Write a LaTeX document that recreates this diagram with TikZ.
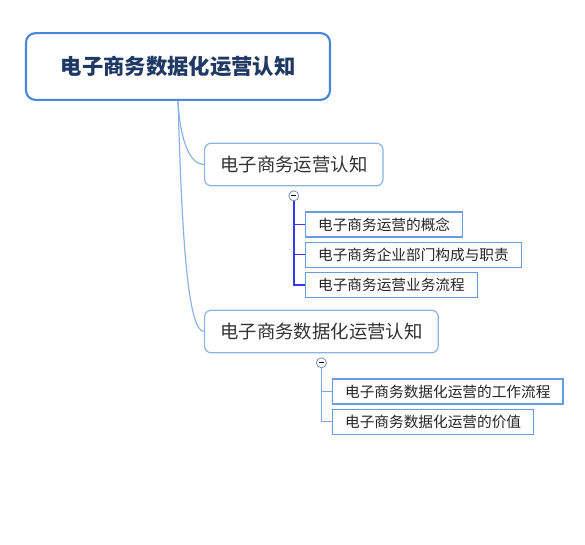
\documentclass[tikz,border=0pt]{standalone}
\usepackage{fontspec}
\setmainfont{Noto Sans CJK SC}
\usetikzlibrary{positioning}
\usepackage{xcolor}
\definecolor{rootline}{HTML}{4A86D8}
\definecolor{topicline}{HTML}{8DB3E2}
\definecolor{leafline}{HTML}{6A9BE0}
\definecolor{activebranch}{HTML}{3838EE}
\definecolor{branch}{HTML}{7DA4E4}
\definecolor{roottext}{HTML}{1F3864}

\begin{document}
\begin{tikzpicture}[x=0.75pt,y=-0.75pt,
    roottopic/.style={draw=rootline,line width=1.6pt,rounded corners=7pt,fill=white,
      font=\fontsize{16}{18}\selectfont\bfseries,text=roottext,
      minimum width=228pt,minimum height=50pt},
    maintopic/.style={draw=topicline,line width=0.9pt,rounded corners=5pt,fill=white,
      font=\fontsize{13.8}{16}\selectfont,text=black!80,inner xsep=11.7pt,
      minimum height=32pt,anchor=west},
    subtopic/.style={draw=leafline,line width=0.9pt,fill=white,
      font=\fontsize{11}{13}\selectfont,text=black!85,inner xsep=9.4pt,inner ysep=0pt,
      minimum height=18.75pt,anchor=west},
    fold/.style={circle,draw=topicline!80!black,fill=white,line width=0.6pt,
      minimum size=7.5pt,inner sep=0pt},
    rootlink/.style={draw=topicline,line width=0.9pt}]
  \useasboundingbox (0,0) rectangle (585,545);
  % central topic and its two main topics
  \node[roottopic] (root) at (178,66.5) {电子商务数据化运营认知};
  \node[maintopic] (ops) at (204,164.5) {电子商务运营认知};
  \node[maintopic] (dataops) at (204,331.5) {电子商务数据化运营认知};
  \draw[rootlink] (root.south) .. controls +(2,40) and +(-14,0) .. (ops.west);
  \draw[rootlink] (root.south) .. controls +(4,140) and +(-16,0) .. (dataops.west);
  % first branch
  \node[fold,below=3pt of ops.south] (opsfold) {};
  \draw[line width=0.7pt] ([xshift=-2pt]opsfold.center) -- ([xshift=2pt]opsfold.center);
  \node[subtopic] (opsconcept) at (305,224.5) {电子商务运营的概念};
  \node[subtopic,below=3pt of opsconcept.south west,anchor=north west] (opsdept) {电子商务企业部门构成与职责};
  \node[subtopic,below=3pt of opsdept.south west,anchor=north west] (opsflow) {电子商务运营业务流程};
  \foreach \leaf in {opsconcept,opsdept,opsflow}
    \draw[activebranch,line width=1.1pt] (opsfold.south) |- (\leaf.west);
  % second branch
  \node[fold,below=3pt of dataops.south] (datafold) {};
  \draw[line width=0.7pt] ([xshift=-2pt]datafold.center) -- ([xshift=2pt]datafold.center);
  \node[subtopic] (dataflow) at (332,391.5) {电子商务数据化运营的工作流程};
  \node[subtopic,below=3pt of dataflow.south west,anchor=north west] (datavalue) {电子商务数据化运营的价值};
  \foreach \leaf in {dataflow,datavalue}
    \draw[branch,line width=1pt] (datafold.south) |- (\leaf.west);
\end{tikzpicture}
\end{document}
